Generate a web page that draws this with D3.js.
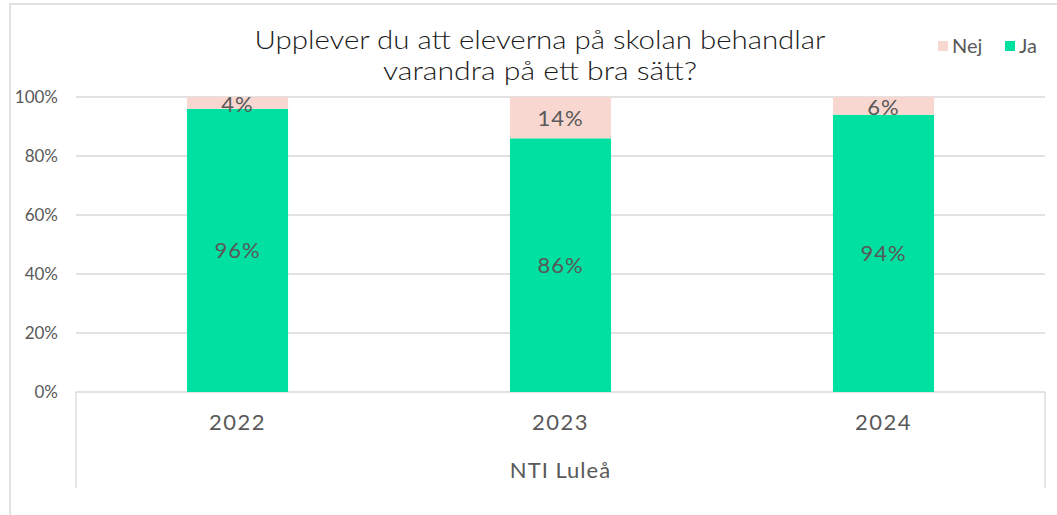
<!DOCTYPE html>
<html><head><meta charset="utf-8">
<script src="https://cdn.jsdelivr.net/npm/d3@7"></script>
<style>body{margin:0;background:#fff}svg{display:block}text{font-family:"Lato","DejaVu Sans",sans-serif}</style>
</head><body>
<svg id="c" width="1057" height="515"></svg>
<script>
const categories = ["2022", "2023", "2024"];
const groupLabel = "NTI Luleå";
const ja = [0.96, 0.86, 0.94];
const nej = [0.04, 0.14, 0.06];
const seriesNames = ["Nej", "Ja"];
const yTicks = [0, 0.2, 0.4, 0.6, 0.8, 1.0];
const titleLines = ["Upplever du att eleverna på skolan behandlar", "varandra på ett bra sätt?"];

const colJa = "#00E0A0", colNej = "#F7D7CF", txt = "#595959", grid = "#D9D9D9";
const svg = d3.select("#c");
const L = 76, R = 1045, T = 97, B = 392;

// outer border
svg.append("path").attr("d", "M10,515 V4 H1057").attr("fill","none").attr("stroke","#D9D9D9").attr("stroke-width",1.5);

const x = d3.scaleBand().domain(categories).range([L, R]).paddingInner(0.687).paddingOuter(0.3435);
const y = d3.scaleLinear().domain([0, 1]).range([B, T]);

// gridlines
svg.append("g").selectAll("line").data(yTicks).join("line")
  .attr("x1", L).attr("x2", R).attr("y1", d => y(d)).attr("y2", d => y(d))
  .attr("stroke", grid).attr("stroke-width", 1.3);

// y axis labels
const yAxis = d3.axisLeft(y).tickValues(yTicks).tickFormat(d => Math.round(d*100) + "%").tickSize(0).tickPadding(18);
const ya = svg.append("g").attr("transform", `translate(${L},0)`).call(yAxis);
ya.select(".domain").remove();
ya.selectAll("text").attr("fill", txt).style("font-size", "17px").style("font-family", '"Lato","DejaVu Sans",sans-serif');

// bars
const g = svg.append("g");
categories.forEach((c, i) => {
  g.append("rect").attr("x", x(c)).attr("width", x.bandwidth())
    .attr("y", y(ja[i])).attr("height", y(0) - y(ja[i])).attr("fill", colJa);
  g.append("rect").attr("x", x(c)).attr("width", x.bandwidth())
    .attr("y", y(ja[i] + nej[i])).attr("height", y(ja[i]) - y(ja[i] + nej[i])).attr("fill", colNej);
  g.append("text").attr("x", x(c) + x.bandwidth()/2).attr("y", (y(0) + y(ja[i]))/2)
    .attr("text-anchor","middle").attr("dy","0.35em").attr("fill", txt).style("font-size","22px").style("letter-spacing","1px")
    .text(Math.round(ja[i]*100) + "%");
  g.append("text").attr("x", x(c) + x.bandwidth()/2).attr("y", (y(ja[i]) + y(ja[i]+nej[i]))/2 + 1)
    .attr("text-anchor","middle").attr("dy","0.35em").attr("fill", txt).style("font-size","22px").style("letter-spacing","1px")
    .text(Math.round(nej[i]*100) + "%");
});

// category axis
svg.append("line").attr("x1", L).attr("x2", L).attr("y1", B).attr("y2", 488).attr("stroke", grid).attr("stroke-width",1.3);
svg.append("line").attr("x1", R).attr("x2", R).attr("y1", B).attr("y2", 488).attr("stroke", grid).attr("stroke-width",1.3);
const xa = d3.axisBottom(x).tickSize(0).tickPadding(22);
const xg = svg.append("g").attr("transform", `translate(0,${B})`).call(xa);
xg.select(".domain").remove();
xg.selectAll("text").attr("fill", txt).style("font-size","22px").style("letter-spacing","1.5px").style("font-family", '"Lato","DejaVu Sans",sans-serif');
svg.append("text").attr("x", (L+R)/2).attr("y", 478).attr("text-anchor","middle").attr("fill", txt)
  .style("font-size","22px").style("letter-spacing","1px").text(groupLabel);

// title
const tLens = [571, 314];
svg.append("g").selectAll("text").data(titleLines).join("text")
  .attr("x", 540).attr("y", (d,i) => 49 + i*31).attr("text-anchor","middle")
  .attr("textLength", (d,i) => tLens[i]).attr("lengthAdjust", "spacingAndGlyphs")
  .attr("fill", "#1a1a1a").style("font-size","25px").style("font-weight","300").text(d => d);

// legend
const lg = svg.append("g");
const legItems = [{n: seriesNames[0], c: colNej, x: 938}, {n: seriesNames[1], c: colJa, x: 1005}];
legItems.forEach(it => {
  lg.append("rect").attr("x", it.x).attr("y", 41).attr("width", 10).attr("height", 10).attr("fill", it.c);
  lg.append("text").attr("x", it.x + 14).attr("y", 53).attr("fill", txt).style("font-size","20px").text(it.n);
});
</script>
</body></html>
